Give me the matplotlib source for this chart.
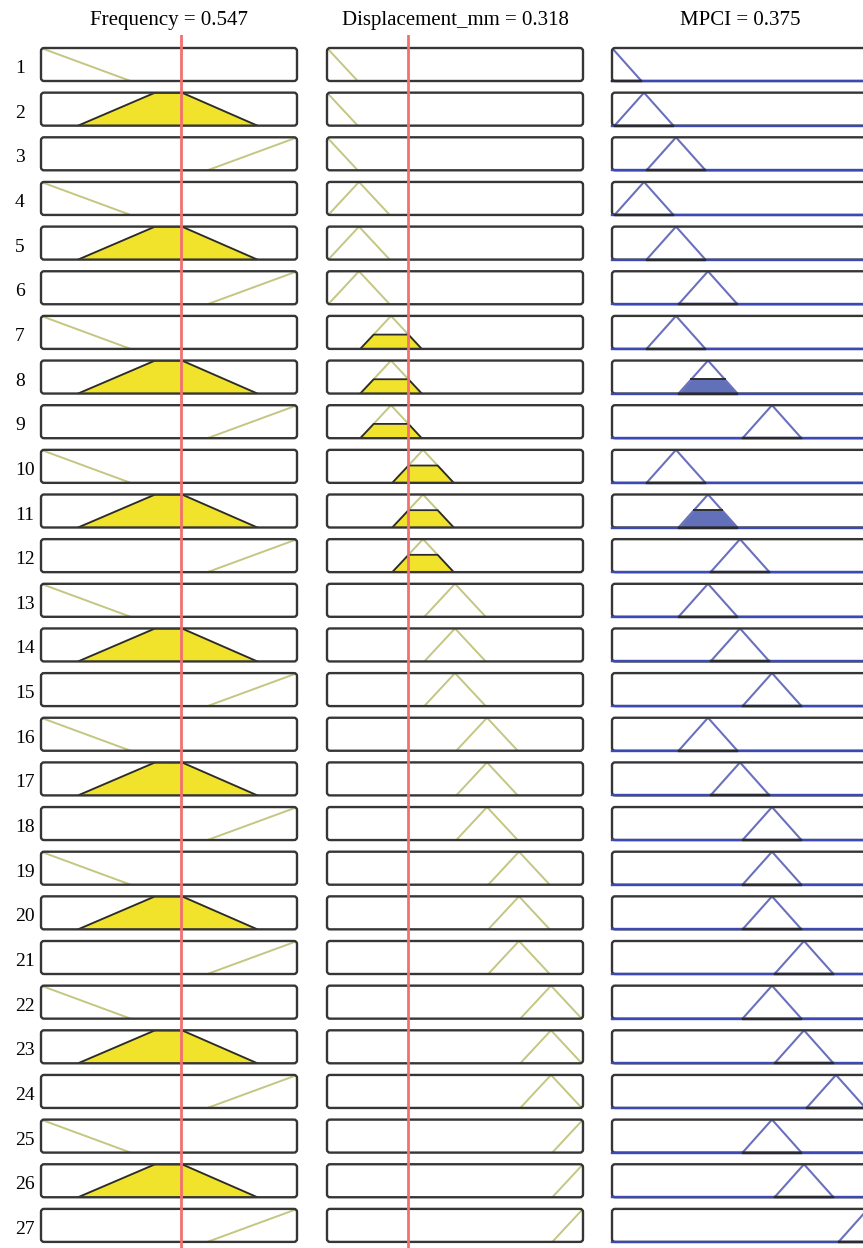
import numpy as np
import matplotlib
matplotlib.use("Agg")
import matplotlib.pyplot as plt
from matplotlib.patches import FancyBboxPatch

# ---------------- data ----------------
freq_value = 0.547
disp_value = 0.318
mpci_value = 0.375

# membership functions as trapezoids (a, b, c, d); triangles have b == c
freq_mfs = [(-0.35, 0.0, 0.0, 0.35),      # low
            (0.145, 0.445, 0.55, 0.845),  # medium
            (0.65, 1.0, 1.0, 1.35)]       # high
disp_centers = [0.0, 0.125, 0.25, 0.375, 0.5, 0.625, 0.75, 0.875, 1.0]
disp_halfwidth = 0.12
mpci_centers = [0.0, 0.125, 0.25, 0.375, 0.5, 0.625, 0.75, 0.875, 1.0]
mpci_halfwidth = 0.115

rule_ids = list(range(1, 28))
rule_freq = [0, 1, 2] * 9
rule_disp = [0, 0, 0, 1, 1, 1, 2, 2, 2, 3, 3, 3, 4, 4, 4, 5, 5, 5,
             6, 6, 6, 7, 7, 7, 8, 8, 8]
rule_mpci = [0, 1, 2, 1, 2, 3, 2, 3, 5, 2, 3, 4, 3, 4, 5, 3, 4, 5,
             5, 5, 6, 5, 6, 7, 5, 6, 8]

titles = ["Frequency = 0.547", "Displacement_mm = 0.318", "MPCI = 0.375"]

# ---------------- helpers ----------------
def tri(c, h):
    return (c - h, c, c, c + h)

disp_mfs = [tri(c, disp_halfwidth) for c in disp_centers]
mpci_mfs = [tri(c, mpci_halfwidth) for c in mpci_centers]


def mf_eval(x, p):
    a, b, c, d = p
    x = np.asarray(x, dtype=float)
    y = np.ones_like(x)
    if b > a:
        y = np.where(x < b, (x - a) / (b - a), y)
    if d > c:
        y = np.where(x > c, (d - x) / (d - c), y)
    return np.clip(y, 0, 1)


def grid(p):
    xs = np.linspace(-0.5, 1.5, 4001)
    return np.unique(np.concatenate([xs, np.array(p)]))


W, H = 863, 1248
fig = plt.figure(figsize=(W / 100, H / 100), dpi=100)
fig.patch.set_facecolor("white")


def ax_px(x, y, w, h):
    ax = fig.add_axes([x / W, 1 - (y + h) / H, w / W, h / H])
    ax.set_xlim(0, 1)
    ax.set_ylim(0, 1)
    ax.axis("off")
    return ax


col_x = [41, 327, 612]
col_w = 256
row_top0 = 48
row_step = 44.65
row_h = 33

BOX = "#363636"
YELLOW = "#f1e22c"
OLIVE = "#c4c681"
DARK = "#2b2b2b"
BLUE_LINE = "#6a70bd"
BLUE_BASE = "#3b49b5"
BLUE_FILL = "#6270b9"
RED = "#f27070"


def draw_box(ax, w_px, h_px):
    r = 3.0 / w_px
    box = FancyBboxPatch((0, 0), 1, 1,
                         boxstyle=f"round,pad=0,rounding_size={r}",
                         mutation_aspect=w_px / h_px,
                         transform=ax.transAxes, facecolor="none",
                         edgecolor=BOX, linewidth=1.7, zorder=5,
                         clip_on=False)
    ax.add_patch(box)


def draw_input(ax, p, value):
    xs = grid(p)
    ys = mf_eval(xs, p)
    mu = float(mf_eval([value], p)[0])
    yl = np.where(ys > 0, ys, np.nan)
    pos = np.where(ys > 0)[0]
    if len(pos):
        i0, i1 = max(pos[0] - 1, 0), min(pos[-1] + 1, len(xs) - 1)
        yl[i0] = ys[i0]
        yl[i1] = ys[i1]
    ax.plot(xs, yl, color=OLIVE, lw=1.4, zorder=2)
    if mu > 0:
        yc = np.minimum(ys, mu)
        ax.fill_between(xs, 0, yc, where=yc > 0, color=YELLOW, lw=0,
                        zorder=3, interpolate=True)
        yo = np.where(yc > 0, yc, np.nan)
        if len(pos):
            yo[i0] = 0
            yo[i1] = 0
        ax.plot(xs, yo, color=DARK, lw=1.3, zorder=4)


for r in range(27):
    top = row_top0 + r * row_step
    fig.text(15 / W, 1 - (top + 25) / H, str(rule_ids[r]),
             fontsize=14, family="Liberation Serif", ha="left", va="baseline")

    ax1 = ax_px(col_x[0], top, col_w, row_h)
    draw_input(ax1, freq_mfs[rule_freq[r]], freq_value)
    draw_box(ax1, col_w, row_h)

    ax2 = ax_px(col_x[1], top, col_w, row_h)
    draw_input(ax2, disp_mfs[rule_disp[r]], disp_value)
    draw_box(ax2, col_w, row_h)

    w = min(float(mf_eval([freq_value], freq_mfs[rule_freq[r]])[0]),
            float(mf_eval([disp_value], disp_mfs[rule_disp[r]])[0]))

    ax3 = ax_px(col_x[2], top, col_w, row_h)
    p = mpci_mfs[rule_mpci[r]]
    xs = grid(p)
    ys = mf_eval(xs, p)
    pos = np.where(ys > 0)[0]
    yl = np.where(ys > 0, ys, np.nan)
    i0, i1 = max(pos[0] - 1, 0), min(pos[-1] + 1, len(xs) - 1)
    yl[i0] = 0
    yl[i1] = 0
    if w > 0:
        yc = np.minimum(ys, w)
        ax3.fill_between(xs, 0, yc, where=yc > 0, color=BLUE_FILL, lw=0,
                         zorder=2, interpolate=True)
        xin = xs[ys >= w]
        ax3.plot([xin.min(), xin.max()], [w, w], color=DARK, lw=1.4, zorder=4)
    ax3.plot(xs, yl, color=BLUE_LINE, lw=1.5, zorder=3)
    draw_box(ax3, col_w, row_h)
    ax3.plot([0, 1], [0, 0], color=BLUE_BASE, lw=1.7, zorder=6, clip_on=False)
    ax3.plot([max(p[0], 0), min(p[3], 1)], [0, 0], color=DARK, lw=1.7,
             zorder=7, clip_on=False)

# red input lines
for ci, val in [(0, freq_value), (1, disp_value)]:
    axr = ax_px(col_x[ci], 35, col_w, H - 35)
    axr.axvline(val, color=RED, lw=2.0, zorder=10)

# titles
for ci, t in enumerate(titles):
    fig.text((col_x[ci] + col_w / 2) / W, 1 - 25 / H, t, fontsize=15,
             family="Liberation Serif", ha="center", va="baseline")

fig.savefig("out.png", dpi=100, facecolor="white")
